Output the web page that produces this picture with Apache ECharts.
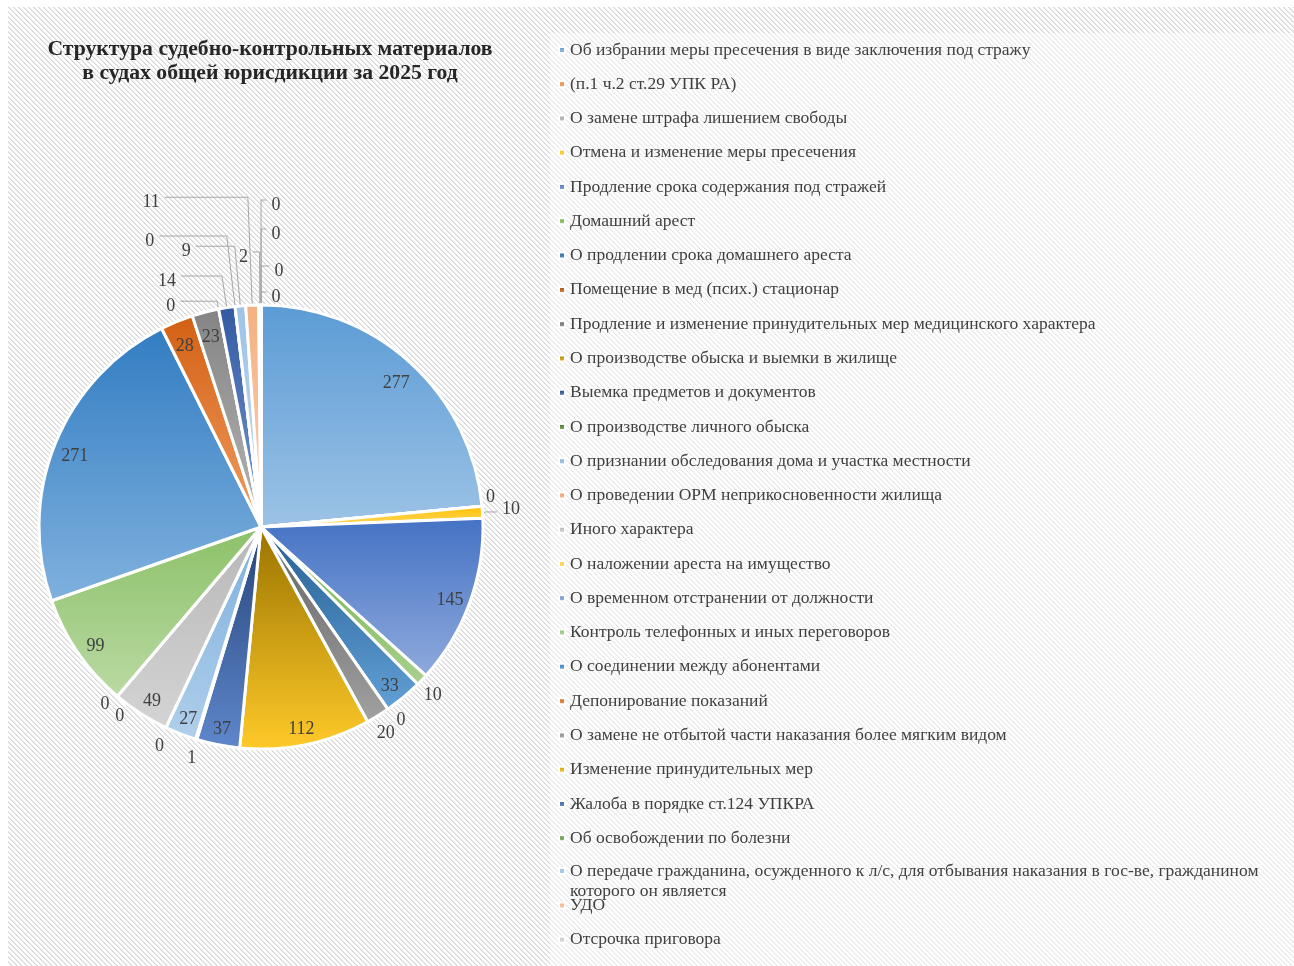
<!DOCTYPE html>
<html>
<head>
<meta charset="utf-8">
<script src="https://cdn.jsdelivr.net/npm/echarts@6/dist/echarts.min.js"></script>
<style>
  html, body { margin: 0; padding: 0; background: #ffffff; width: 1294px; height: 966px; overflow: hidden; }
  #chart { position: absolute; left: 8px; top: 7px; width: 1286px; height: 959px; }
</style>
</head>
<body>
<div id="chart"></div>
<script>
// ---- data ----
const titleLines = [
  'Структура судебно-контрольных материалов',
  'в судах общей юрисдикции за 2025 год'
];

const categories = [
  'Об избрании меры пресечения в виде заключения под стражу',
  '(п.1 ч.2 ст.29 УПК РА)',
  'О замене штрафа лишением свободы',
  'Отмена и изменение меры пресечения',
  'Продление срока содержания под стражей',
  'Домашний арест',
  'О продлении срока домашнего ареста',
  'Помещение в мед (псих.) стационар',
  'Продление и изменение принудительных мер медицинского характера',
  'О производстве обыска и выемки в жилище',
  'Выемка предметов и документов',
  'О производстве личного обыска',
  'О признании обследования дома и участка местности',
  'О проведении ОРМ неприкосновенности жилища',
  'Иного характера',
  'О наложении ареста на имущество',
  'О временном отстранении от должности',
  'Контроль телефонных и иных переговоров',
  'О соединении между абонентами',
  'Депонирование показаний',
  'О замене не отбытой части наказания более мягким видом',
  'Изменение принудительных мер',
  'Жалоба в порядке ст.124 УПКРА',
  'Об освобождении по болезни',
  'О передаче гражданина, осужденного к л/с, для отбывания наказания в гос-ве, гражданином которого он является',
  'УДО',
  'Отсрочка приговора'
];

const values = [
  277, 0, 0, 10, 145, 10, 33, 0, 20, 112,
  37, 1, 27, 0, 49, 0, 0, 99, 271, 28,
  23, 0, 14, 0, 9, 11, 2
];

// trailing entries of the series that have no legend row
const unlistedValues = [0, 0, 0, 0];

// ---- styling ----
const palette = [
  '#5B9BD5', '#ED7D31', '#A5A5A5', '#FFC000', '#4472C4', '#70AD47',
  '#255E91', '#9E480E', '#636363', '#997300', '#264478', '#43682B',
  '#7CAFDD', '#F1975A', '#B7B7B7', '#FFCD33', '#698ED0', '#8CC168',
  '#327DC2', '#D26012', '#848484', '#CC9A00', '#335AA1', '#5A8A39',
  '#9DC3E6', '#F4B183', '#C9C9C9', '#FFD966', '#8FAADC', '#A9D18E',
  '#1F4E79'
];
const FONT = "'Liberation Serif', 'Times New Roman', serif";
const TEXT_COLOR = '#404040';
const CENTER = [253, 520];
const OUTER_R = 222;
const INSIDE_MIN = 23;                // slices this big carry their value inside
const RIM_LABELS = [5, 8, 11, 13];    // values centred just beyond the rim
// values set outside with a leader: [length, length2, gap, showLine]
const LEADERS = {
  1:  [4, 0, 0, false],
  2:  [4, 0, 0, false],
  3:  [4, 10.5, 5, true],
  7:  [7, 0, 4.8, false],
  15: [3.5, 0, 5.6, false],
  16: [19.2, 0, -19.5, false],
  21: [8, 37, 5, true],
  22: [32, 41, 5, true],
  23: [71, 67.5, 5, true],
  24: [60, 39, 5, true],
  25: [108, 83, 5, true],
  26: [53, 6.6, 5, true],
  27: [105, 5.5, 5, true],
  28: [76, 5.5, 5, true],
  29: [39, 8.5, 5, true],
  30: [13, 5.5, 5, true]
};
// vertical nudge of a value label: spacer line above (down) or below (up)
const NUDGE_UP = { 1: 'up18', 2: 'up18', 3: 'up6' };

function tint(hex, t) {
  let r = parseInt(hex.slice(1, 3), 16) / 255;
  let g = parseInt(hex.slice(3, 5), 16) / 255;
  let b = parseInt(hex.slice(5, 7), 16) / 255;
  const max = Math.max(r, g, b), min = Math.min(r, g, b);
  let h = 0, s = 0, l = (max + min) / 2;
  if (max !== min) {
    const d = max - min;
    s = l > 0.5 ? d / (2 - max - min) : d / (max + min);
    if (max === r) h = (g - b) / d + (g < b ? 6 : 0);
    else if (max === g) h = (b - r) / d + 2;
    else h = (r - g) / d + 4;
    h /= 6;
  }
  l = l + (1 - l) * t;
  const hue2rgb = (p, q, x) => {
    if (x < 0) x += 1; if (x > 1) x -= 1;
    if (x < 1 / 6) return p + (q - p) * 6 * x;
    if (x < 1 / 2) return q;
    if (x < 2 / 3) return p + (q - p) * (2 / 3 - x) * 6;
    return p;
  };
  if (s === 0) { r = g = b = l; }
  else {
    const q = l < 0.5 ? l * (1 + s) : l + s - l * s;
    const p = 2 * l - q;
    r = hue2rgb(p, q, h + 1 / 3); g = hue2rgb(p, q, h); b = hue2rgb(p, q, h - 1 / 3);
  }
  const to = v => Math.round(v * 255).toString(16).padStart(2, '0');
  return '#' + to(r) + to(g) + to(b);
}

function sliceFill(i) {
  const base = palette[i % palette.length];
  return new echarts.graphic.LinearGradient(0, 0, 0, 1, [
    { offset: 0, color: base },
    { offset: 1, color: tint(base, 0.4) }
  ]);
}

// diagonal hatch used as the chart background
function hatchPattern() {
  const n = 5;
  const c = document.createElement('canvas');
  c.width = n; c.height = n;
  const ctx = c.getContext('2d');
  ctx.fillStyle = '#ffffff';
  ctx.fillRect(0, 0, n, n);
  for (let y = 0; y < n; y++) {
    for (let x = 0; x < n; x++) {
      const k = ((x - y) % n + n) % n;
      if (k === 0) { ctx.fillStyle = '#d6d6d6'; ctx.fillRect(x, y, 1, 1); }
      else if (k === 1) { ctx.fillStyle = '#e9e9e9'; ctx.fillRect(x, y, 1, 1); }
    }
  }
  return { image: c, repeat: 'repeat' };
}

const allValues = values.concat(unlistedValues);
const allNames = categories.concat(unlistedValues.map(() => ''));

const labelRich = {
  v: { fontFamily: FONT, fontSize: 18, color: TEXT_COLOR, lineHeight: 18 },
  dn: { fontSize: 1, lineHeight: 10 },
  up18: { fontSize: 1, lineHeight: 18 },
  up6: { fontSize: 1, lineHeight: 6 }
};
function valueText(p) {
  const up = NUDGE_UP[p.dataIndex];
  return up ? '{v|' + p.value + '}\n{' + up + '| }' : '{dn| }\n{v|' + p.value + '}';
}
const labelBase = { formatter: valueText, rich: labelRich, fontFamily: FONT, fontSize: 18, color: TEXT_COLOR };

// main slices; carries the leader-line labels
const pieData = allValues.map((v, i) => {
  const ld = LEADERS[i];
  return {
    name: allNames[i],
    value: v,
    itemStyle: { color: sliceFill(i) },
    label: ld ? { show: true, distanceToLabelLine: ld[2] } : { show: false },
    labelLine: ld ? { show: ld[3], length: ld[0], length2: ld[1] } : { show: false }
  };
});

// transparent rings that only hold value labels
const innerRingData = allValues.map((v, i) => ({
  name: allNames[i], value: v,
  label: { show: v >= INSIDE_MIN }
}));
const rimRingData = allValues.map((v, i) => ({
  name: allNames[i], value: v,
  label: { show: RIM_LABELS.indexOf(i) >= 0 }
}));

function labelRing(radius, data) {
  return {
    type: 'pie',
    center: CENTER,
    radius: radius,
    startAngle: 89.99,
    clockwise: true,
    silent: true,
    avoidLabelOverlap: false,
    itemStyle: { color: 'rgba(0,0,0,0)', borderWidth: 0 },
    label: Object.assign({ position: 'inside' }, labelBase),
    labelLine: { show: false },
    emphasis: { disabled: true },
    data: data
  };
}

const legendText = { fontFamily: FONT, fontSize: 17.5, color: TEXT_COLOR, lineHeight: 19 };
const ROW = 34.27;
const LEG_TOP = 33.5;

const chart = echarts.init(document.getElementById('chart'), null, { renderer: 'canvas' });
chart.setOption({
  backgroundColor: hatchPattern(),
  animation: false,
  title: {
    text: titleLines.join('\n'),
    left: 257,
    top: 25,
    textAlign: 'center',
    textStyle: { fontFamily: FONT, fontSize: 21.7, fontWeight: 'bold', color: '#262626', lineHeight: 24 }
  },
  graphic: [{
    type: 'rect', z: 0, silent: true,
    shape: { x: 542, y: 26, width: 760, height: 940 },
    style: { fill: 'rgba(255,255,255,0.45)' }
  }],
  legend: [
    {
      data: categories.slice(0, 24),
      orient: 'vertical', left: 550, top: LEG_TOP, padding: 0,
      icon: 'rect', itemWidth: 6, itemHeight: 6, itemGap: ROW - 19,
      selectedMode: false, textStyle: legendText
    },
    {
      // two-line entry: the marker sits beside the first line
      data: [{ name: categories[24], icon: 'path://M0 0h0.01v0.01h-0.01zM0 7h6v6h-6zM0 40h0.01v0.01h-0.01z' }],
      formatter: name => name.replace(' которого', '\nкоторого'),
      orient: 'vertical', left: 550, top: 853, padding: 0,
      itemWidth: 6, itemHeight: 40, selectedMode: false,
      textStyle: Object.assign({}, legendText, { lineHeight: 20 })
    },
    {
      data: categories.slice(25),
      orient: 'vertical', left: 550, top: 889, padding: 0,
      icon: 'rect', itemWidth: 6, itemHeight: 6, itemGap: ROW - 19,
      selectedMode: false, textStyle: legendText
    }
  ],
  series: [
    {
      type: 'pie',
      center: CENTER,
      radius: [0, OUTER_R],
      startAngle: 89.99,
      clockwise: true,
      avoidLabelOverlap: false,
      silent: true,
      itemStyle: { borderColor: '#ffffff', borderWidth: 3 },
      label: Object.assign({ position: 'outside' }, labelBase),
      labelLine: { lineStyle: { color: '#a6a6a6', width: 1 } },
      emphasis: { disabled: true },
      data: pieData
    },
    labelRing([176, 220], innerRingData),
    labelRing([OUTER_R, 246], rimRingData)
  ]
});
</script>
</body>
</html>
